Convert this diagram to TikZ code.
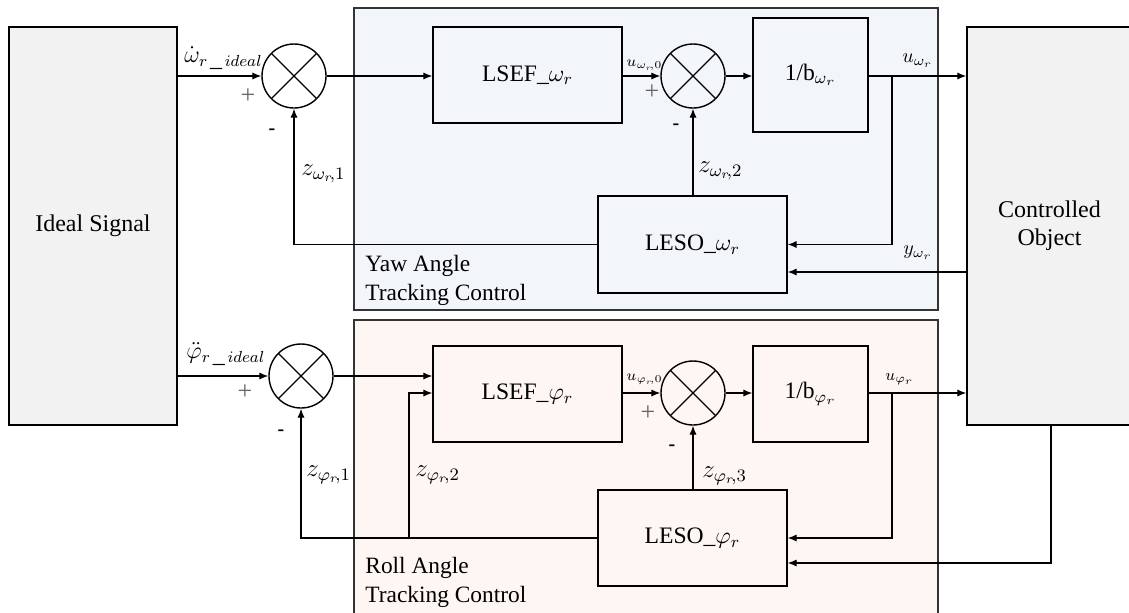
\RequirePackage{fix-cm}
\documentclass[tikz,border=0pt]{standalone}
\usepackage{fontspec}
\setmainfont{Liberation Serif}
\usetikzlibrary{arrows.meta}
\definecolor{yawfill}{HTML}{F2F5FA}
\definecolor{rollfill}{HTML}{FDF6F3}
\definecolor{grayfill}{HTML}{F2F2F2}
\begin{document}
\begin{tikzpicture}[x=0.5pt,y=-0.5pt,
  box/.style={draw,line width=0.7pt,inner sep=0pt,font=\fontsize{11.8}{14}\selectfont},
  bigbox/.style={box,fill=grayfill,align=center,font=\fontsize{12}{14.2}\selectfont},
  panelbox/.style={draw=black!80,line width=0.7pt,inner sep=0pt},
  sumnode/.style={circle,draw,line width=0.7pt,minimum size=32pt,inner sep=0pt,
    path picture={\draw[line width=0.6pt] (path picture bounding box.north west) -- (path picture bounding box.south east)
      (path picture bounding box.north east) -- (path picture bounding box.south west);}},
  arr/.style={line width=0.6pt,-{Latex[length=4.5pt,width=3.6pt]}},
  lbl/.style={inner sep=0pt,anchor=west},
  zlbl/.style={lbl,font=\fontsize{12.5}{14}\selectfont},
  ulbl/.style={lbl,font=\fontsize{7.5}{9}\selectfont},
  plus/.style={inner sep=0pt,text=black!60,font=\fontsize{13}{14}\selectfont},
  minus/.style={inner sep=0pt,font=\fontsize{10}{12}\selectfont\bfseries},
  paneltitle/.style={inner sep=0pt,align=left,anchor=west,font=\fontsize{11.7}{14.5}\selectfont}]
\useasboundingbox (0,0) rectangle (1129,612);

% panels
\node[panelbox,fill=yawfill,minimum width=292pt,minimum height=151pt] (yaw) at (646,159) {};
\node[panelbox,fill=rollfill,minimum width=292pt,minimum height=148pt] (roll) at (646,468) {};
\node[paneltitle] (yawt) at (365,280) {Yaw Angle\\Tracking Control};
\node[paneltitle] (rollt) at (365,582) {Roll Angle\\Tracking Control};

% big blocks
\node[bigbox,minimum width=84pt,minimum height=199pt] (ideal) at (93,226) {Ideal Signal};
\node[bigbox,minimum width=82.5pt,minimum height=199pt] (ctrl) at (1049.5,226) {Controlled\\Object};

% yaw loop
\node[sumnode] (s1) at (294,76) {};
\node[sumnode] (s2) at (693,76) {};
\node[box,minimum width=94.5pt,minimum height=48pt] (lsefw) at (527.5,75) {LSEF\_$\omega_r$};
\node[box,minimum width=57.5pt,minimum height=57pt] (bw) at (810.5,75) {1/b$_{\omega_r}$};
\node[box,minimum width=94.5pt,minimum height=48.5pt] (lesow) at (692.5,244.5) {LESO\_$\omega_r$};

% roll loop
\node[sumnode] (s3) at (301,376) {};
\node[sumnode] (s4) at (693,393) {};
\node[box,minimum width=94.5pt,minimum height=48pt] (lsefp) at (527.5,394) {LSEF\_$\varphi_r$};
\node[box,minimum width=57.5pt,minimum height=48pt] (bp) at (810.5,394) {1/b$_{\varphi_r}$};
\node[box,minimum width=94.5pt,minimum height=48pt] (lesop) at (692.5,538) {LESO\_$\varphi_r$};

% yaw connectors
\coordinate (jw) at (892,76);
\coordinate (yw) at (967,272);
\draw[arr] (ideal.east |- s1.west) -- (s1.west);
\draw[arr] (s1.east) -- (s1.east -| lsefw.west);
\draw[arr] (s2.west -| lsefw.east) -- (s2.west);
\draw[arr] (s2.east) -- (s2.east -| bw.west);
\draw[arr] (s2.east -| bw.east) -- (s2.east -| ctrl.west);
\draw[arr] (jw) |- (lesow.east);
\draw[arr] (ctrl.west |- yw) -- (lesow.east |- yw);
\draw[arr] (s2.south |- lesow.north) -- (s2.south);
\draw[arr] (lesow.west) -| (s1.south);

% roll connectors
\coordinate (jz) at (409,538);
\coordinate (jp) at (892,393);
\coordinate (cy) at (1051,563);
\draw[arr] (ideal.east |- s3.west) -- (s3.west);
\draw[arr] (s3.east) -- (s3.east -| lsefp.west);
\draw[arr] (jz) |- (lsefp.west |- s4.west);
\draw[arr] (s4.west -| lsefp.east) -- (s4.west);
\draw[arr] (s4.east) -- (s4.east -| bp.west);
\draw[arr] (s4.east -| bp.east) -- (s4.east -| ctrl.west);
\draw[arr] (jp) |- (lesop.east);
\draw[arr] (ctrl.south -| cy) |- (lesop.east |- cy);
\draw[arr] (s4.south |- lesop.north) -- (s4.south);
\draw[arr] (lesop.west) -| (s3.south);

% labels yaw
\node[lbl,font=\fontsize{12}{14}\selectfont] (l1) at (184,58) {$\dot{\omega}_{r\,\_\,ideal}$};
\node[plus] (p1) at (248,96) {+};
\node[minus] (m1) at (272,132) {-};
\node[zlbl] (l2) at (301,174) {$z_{\omega_r\!,1}$};
\node[ulbl] (l3) at (626,65) {$u_{\omega_r\!,0}$};
\node[plus] (p2) at (652,92) {+};
\node[minus] (m2) at (676,127) {-};
\node[zlbl] (l4) at (698,171) {$z_{\omega_r\!,2}$};
\node[lbl,font=\fontsize{10}{12}\selectfont] (l5) at (902,61) {$u_{\omega_r}$};
\node[lbl,font=\fontsize{10}{12}\selectfont] (l6) at (903,253) {$y_{\omega_r}$};

% labels roll
\node[lbl,font=\fontsize{12}{14}\selectfont] (l7) at (186,354) {$\ddot{\varphi}_{r\,\_\,ideal}$};
\node[plus] (p3) at (245,392) {+};
\node[minus] (m3) at (281,433) {-};
\node[zlbl] (l8) at (306,475) {$z_{\varphi_r\!,1}$};
\node[zlbl] (l9) at (415,475) {$z_{\varphi_r\!,2}$};
\node[ulbl] (l10) at (626,379) {$u_{\varphi_r\!,0}$};
\node[plus] (p4) at (648,413) {+};
\node[minus] (m4) at (672,448) {-};
\node[zlbl] (l11) at (702,476) {$z_{\varphi_r\!,3}$};
\node[lbl,font=\fontsize{8}{10}\selectfont] (l12) at (885,379) {$u_{\varphi_r}$};
\end{tikzpicture}
\end{document}
